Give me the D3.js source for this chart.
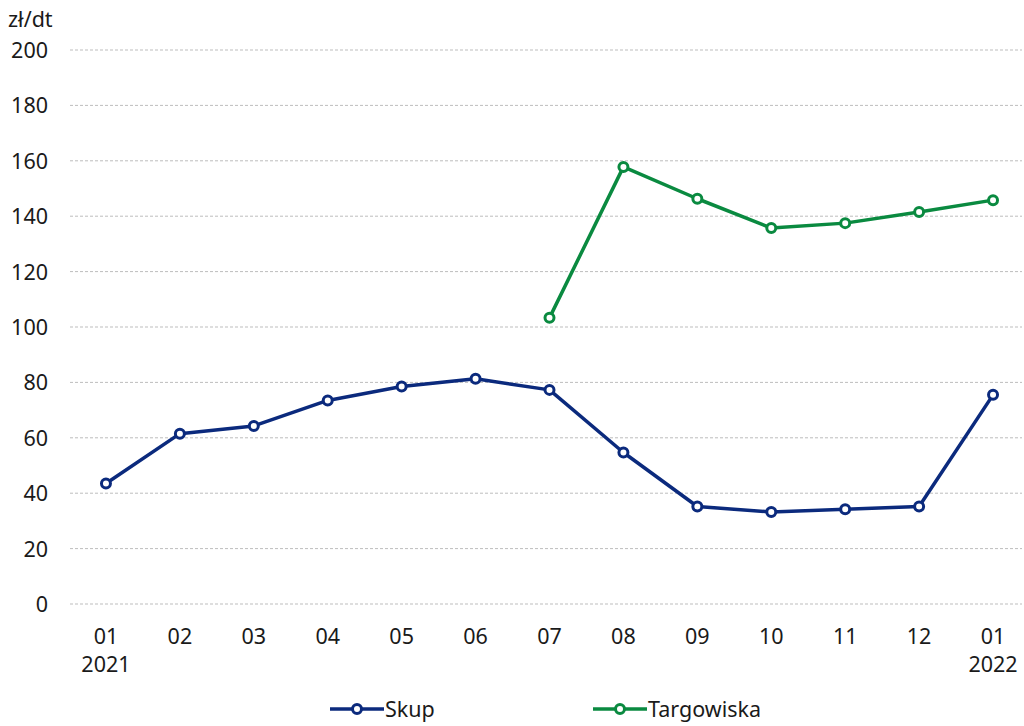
<!DOCTYPE html>
<html>
<head>
<meta charset="utf-8">
<script src="https://cdn.jsdelivr.net/npm/d3@7"></script>
<style>
  body { margin: 0; background: #fff; }
  svg { font-family: "Liberation Sans Narrow", "Noto Sans", sans-serif; }
</style>
</head>
<body>
<div id="chart"></div>
<script>
var width = 1024, height = 726;

var months = ["01", "02", "03", "04", "05", "06", "07", "08", "09", "10", "11", "12", "01b"];
var monthLabels = ["01", "02", "03", "04", "05", "06", "07", "08", "09", "10", "11", "12", "01"];
var yearLabels = {"01": "2021", "01b": "2022"};
var skup = [43.5, 61.5, 64.3, 73.5, 78.5, 81.3, 77.3, 54.7, 35.2, 33.2, 34.2, 35.2, 75.5];
var targowiska = [null, null, null, null, null, null, 103.3, 157.8, 146.3, 135.7, 137.5, 141.5, 145.8];
var yTicks = [0, 20, 40, 60, 80, 100, 120, 140, 160, 180, 200];

var colors = { skup: "#0b2a7d", targ: "#0a8a40" };
var fs = 21.5;

var svg = d3.select("#chart").append("svg")
    .attr("width", width).attr("height", height);

var x = d3.scalePoint().domain(months).range([69, 1030]).padding(0.5);
var y = d3.scaleLinear().domain([0, 200]).range([604, 50]);

// grid
svg.append("g").selectAll("line").data(yTicks).join("line")
    .attr("x1", 70).attr("x2", 1022)
    .attr("y1", d => y(d)).attr("y2", d => y(d))
    .attr("stroke", "#bdbdbd").attr("stroke-width", 1)
    .attr("stroke-dasharray", "3,2");

svg.append("g").selectAll("text").data(yTicks).join("text")
    .attr("x", 48).attr("y", d => y(d) + 8)
    .attr("text-anchor", "end")
    .attr("font-size", fs).attr("fill", "#1a1a1a")
    .text(d => d);

svg.append("text").attr("x", 8).attr("y", 27)
    .attr("font-size", fs).attr("fill", "#1a1a1a").text("zł/dt");

// x labels
svg.append("g").selectAll("text").data(months).join("text")
    .attr("x", d => x(d)).attr("y", 644)
    .attr("text-anchor", "middle")
    .attr("font-size", fs).attr("fill", "#1a1a1a")
    .text((d, i) => monthLabels[i]);

svg.append("g").selectAll("text").data(months.filter(d => yearLabels[d])).join("text")
    .attr("x", d => x(d)).attr("y", 672)
    .attr("text-anchor", "middle")
    .attr("font-size", fs).attr("fill", "#1a1a1a")
    .text(d => yearLabels[d]);

function series(values, color) {
    var pts = months.map((m, i) => ({m: m, v: values[i]})).filter(d => d.v != null);
    var line = d3.line().x(d => x(d.m)).y(d => y(d.v));
    svg.append("path").datum(pts)
        .attr("d", line)
        .attr("fill", "none").attr("stroke", color)
        .attr("stroke-width", 3.5).attr("stroke-linejoin", "round");
    svg.append("g").selectAll("circle").data(pts).join("circle")
        .attr("cx", d => x(d.m)).attr("cy", d => y(d.v))
        .attr("r", 4.5).attr("fill", "#fff")
        .attr("stroke", color).attr("stroke-width", 3);
}
series(skup, colors.skup);
series(targowiska, colors.targ);

// legend
var legend = [
    {name: "Skup", color: colors.skup, x: 330},
    {name: "Targowiska", color: colors.targ, x: 593}
];
var lg = svg.append("g").selectAll("g").data(legend).join("g")
    .attr("transform", d => `translate(${d.x},709)`);
lg.append("line").attr("x1", 0).attr("x2", 54)
    .attr("stroke", d => d.color).attr("stroke-width", 3.5);
lg.append("circle").attr("cx", 27).attr("r", 4.5)
    .attr("fill", "#fff").attr("stroke", d => d.color).attr("stroke-width", 3);
lg.append("text").attr("x", 55).attr("y", 8)
    .attr("font-size", fs).attr("fill", "#1a1a1a")
    .text(d => d.name);
</script>
</body>
</html>
